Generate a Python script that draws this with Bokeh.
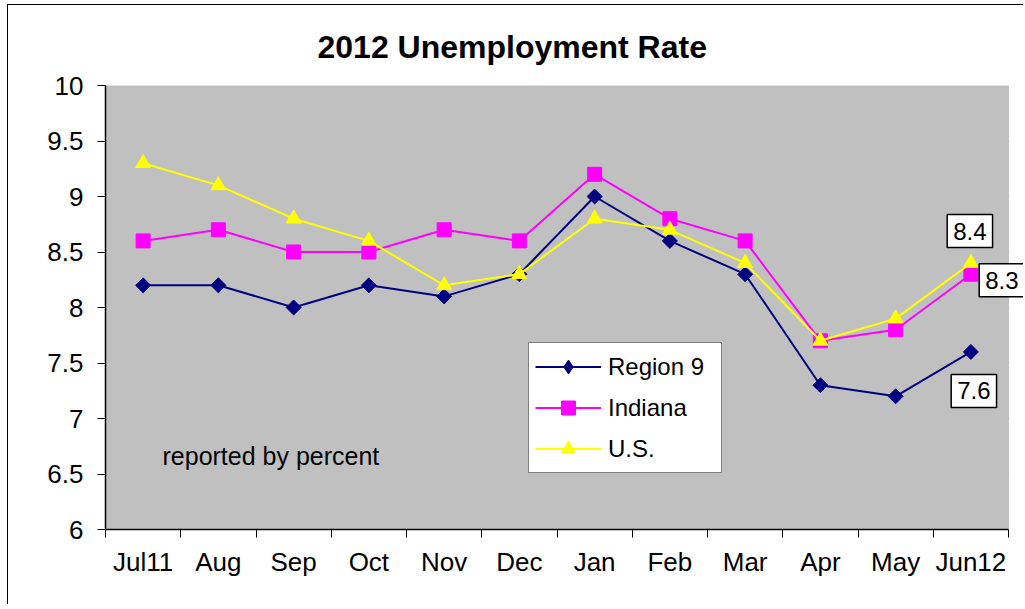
import math
from bokeh.plotting import figure
from bokeh.models import (Range1d, FixedTicker, Legend, LegendItem, Label, ColumnDataSource,
                          BoxAnnotation)
from bokeh.embed import file_html
from bokeh.resources import INLINE

months = ["Jul11", "Aug", "Sep", "Oct", "Nov", "Dec", "Jan", "Feb", "Mar", "Apr", "May", "Jun12"]
region9 = [8.2, 8.2, 8.0, 8.2, 8.1, 8.3, 9.0, 8.6, 8.3, 7.3, 7.2, 7.6]
indiana = [8.6, 8.7, 8.5, 8.5, 8.7, 8.6, 9.2, 8.8, 8.6, 7.7, 7.8, 8.3]
us = [9.3, 9.1, 8.8, 8.6, 8.2, 8.3, 8.8, 8.7, 8.4, 7.7, 7.9, 8.4]
y_ticks = [6, 6.5, 7, 7.5, 8, 8.5, 9, 9.5, 10]

FONT = "Liberation Sans"
N = len(months)
xs = [i + 0.5 for i in range(N)]
Y0, Y1 = 6, 10

W, H = 1016, 600
BL, BT, BB = 97, 80, 76
PLOT_W = 903             # width of the grey plot area in pixels
EXTRA_PX = W - BL - PLOT_W  # white strip right of the plot area (room for data label)
x_extra = EXTRA_PX * N / PLOT_W

p = figure(width=W, height=H, output_backend="svg", toolbar_location=None,
           x_range=Range1d(0, N + x_extra), y_range=Range1d(Y0, Y1),
           min_border_left=BL, min_border_right=0, min_border_top=BT, min_border_bottom=BB)
p.styles = {"margin-left": "7px", "margin-top": "4px",
            "border-left": "1px solid black", "border-top": "1px solid black"}

p.title.text = "2012 Unemployment Rate"
p.title.align = "left"
p.title.offset = 212
p.title.text_font = FONT
p.title.text_font_size = "32px"
p.title.text_font_style = "bold"
p.title.text_color = "black"
p.title.standoff = 42

p.background_fill_color = "white"
p.border_fill_color = "white"
p.outline_line_color = None

# grey plot area with grey border
p.add_layout(BoxAnnotation(left=0, right=N, bottom=Y0, top=Y1, fill_color="#C0C0C0",
                           fill_alpha=1, line_color="#808080", line_width=1, level="underlay"))
# horizontal gridlines limited to the plot area
grid_y = [t for t in y_ticks if Y0 < t < Y1]
p.segment(x0=[0] * len(grid_y), x1=[N] * len(grid_y), y0=grid_y, y1=grid_y,
          line_color="#404040", line_width=1, level="underlay")
p.xgrid.grid_line_color = None
p.ygrid.grid_line_color = None

# x axis: labels at category centers, tick marks at category boundaries
p.xaxis.bounds = (0, N)
p.xaxis.ticker = FixedTicker(ticks=xs, minor_ticks=list(range(N + 1)))
p.xaxis.major_label_overrides = {x: m for x, m in zip(xs, months)}
p.xaxis.major_tick_line_color = None
p.xaxis.minor_tick_out = 8
p.xaxis.minor_tick_in = 0
p.xaxis.minor_tick_line_color = "black"
p.xaxis.axis_line_color = "black"
p.xaxis.axis_line_width = 1.5
p.xaxis.major_label_text_font = FONT
p.xaxis.major_label_text_font_size = "26px"
p.xaxis.major_label_text_color = "black"
p.xaxis.major_label_standoff = 9

p.yaxis.ticker = FixedTicker(ticks=y_ticks)
p.yaxis.major_label_overrides = {t: (str(int(t)) if t == int(t) else str(t)) for t in y_ticks}
p.yaxis.minor_tick_line_color = None
p.yaxis.major_tick_out = 8
p.yaxis.major_tick_in = 0
p.yaxis.axis_line_color = "black"
p.yaxis.axis_line_width = 1.5
p.yaxis.major_label_text_font = FONT
p.yaxis.major_label_text_font_size = "26px"
p.yaxis.major_label_text_color = "black"
p.yaxis.major_label_standoff = 14

src = ColumnDataSource(dict(x=xs, r9=region9, ind=indiana, us=us))

l1 = p.line("x", "r9", source=src, line_color="#000080", line_width=2)
m1 = p.scatter("x", "r9", source=src, marker="square", angle=math.pi / 4, size=10.6,
               fill_color="#000080", line_color="#000080")
# hidden twin used only to draw the legend's diamond icon
m1_leg = p.scatter("x", "r9", source=src, marker="diamond", fill_color="#000080",
                   line_color="#000080", visible=False)
l2 = p.line("x", "ind", source=src, line_color="#FF00FF", line_width=2)
m2 = p.scatter("x", "ind", source=src, marker="square", size=14,
               fill_color="#FF00FF", line_color="#FF00FF")
l3 = p.line("x", "us", source=src, line_color="#FFFF00", line_width=2)
m3 = p.scatter("x", "us", source=src, marker="triangle", size=15,
               fill_color="#FFFF00", line_color="#FFFF00")

legend = Legend(items=[LegendItem(label="Region 9", renderers=[l1, m1_leg]),
                       LegendItem(label="Indiana", renderers=[l2, m2]),
                       LegendItem(label="U.S.", renderers=[l3, m3])],
                location=(423, 56), label_text_font=FONT, label_text_font_size="24px",
                label_text_color="black",
                glyph_width=66, glyph_height=35, label_height=35, label_width=107,
                label_standoff=7, padding=6, spacing=6, margin=0,
                border_line_color="black", border_line_width=1,
                background_fill_color="white", background_fill_alpha=1,
                inactive_fill_alpha=0)
p.add_layout(legend, "center")

p.add_layout(Label(x=57, y=74, x_units="screen", y_units="screen", text="reported by percent",
                   text_font=FONT, text_font_size="25px", text_baseline="middle", text_color="black"))

last = N - 1
for val, xo, yo in [(us[last], -1, 32), (indiana[last], 31, -6), (region9[last], 3, -39)]:
    p.add_layout(Label(x=xs[last], y=val, x_offset=xo, y_offset=yo, text=f"{val:.1f}",
                       text_font=FONT, text_font_size="24px", text_align="center",
                       text_baseline="middle", text_color="black",
                       background_fill_color="white", border_line_color="black",
                       border_line_width=1.5, padding=dict(left=6, right=6, top=8, bottom=8),
                       level="overlay"))

open("out.html", "w").write(file_html(p, INLINE))
